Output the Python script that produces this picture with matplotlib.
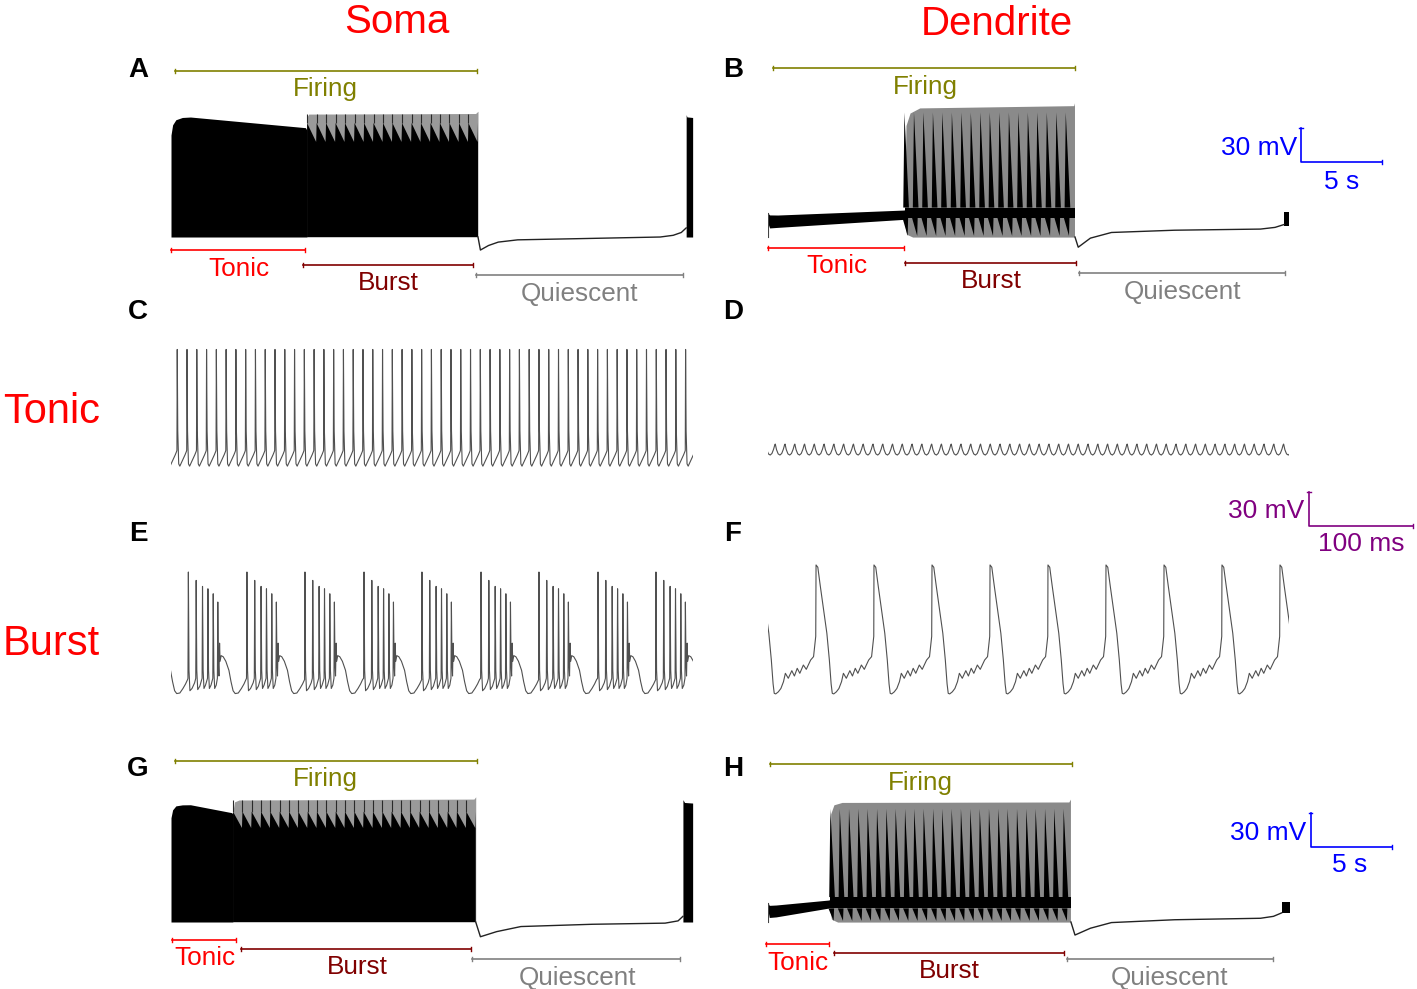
import numpy as np
import matplotlib
matplotlib.use('Agg')
import matplotlib.pyplot as plt

plt.rcParams['font.family'] = ['Liberation Sans', 'DejaVu Sans']

W, H = 1417, 989
MV = 1.133   # px per mV
SEC = 16.2   # px per s  (panels A, B, G, H)
MS = 1.04    # px per ms (panels C to F)

# ---------------- data ----------------
# long runs (time in s, voltage in mV)
ab_onsets = [8.40, 8.99, 9.57, 10.16, 10.74, 11.33, 11.92, 12.50, 13.09, 13.67,
             14.26, 14.85, 15.43, 16.02, 16.60, 17.19, 17.78, 18.36]
gh_onsets = [3.83, 4.41, 4.98, 5.56, 6.13, 6.71, 7.29, 7.86, 8.44, 9.01, 9.59,
             10.17, 10.74, 11.32, 11.89, 12.47, 13.05, 13.62, 14.20, 14.77,
             15.35, 15.93, 16.50, 17.08, 17.65, 18.23]

# A: soma
a_tonic_t = [0.0, 0.1, 0.3, 0.7, 1.2, 8.3, 8.4]
a_tonic_v = [20, 29, 33.5, 35.5, 35.9, 26.5, 24]
a_top_t = [8.4, 8.5, 18.8, 18.95]
a_top_v = [36, 38.5, 39, 41]
a_quiet_t = [18.95, 19.1, 19.6, 20.2, 21.4, 25.0, 30.2, 31.0, 31.5, 31.8]
a_quiet_v = [-70, -81.5, -77.5, -74.5, -72.5, -71.5, -70, -68.5, -66, -62]
a_last_t = [31.8, 31.85, 32.2]
a_last_v = [38, 36, 35.5]

# B: dendrite
b_band_t = [0.0, 0.1, 0.6, 8.4, 8.46]
b_band_hi = [-49, -50.5, -50.6, -46.2, -45.5]
b_band_lo = [-58, -62, -61.5, -54.4, -54]
b_top_t = [8.46, 8.55, 8.8, 9.4, 18.9, 18.95]
b_top_v = [-40, 28, 39, 43.5, 45.5, 48]
b_quiet_t = [18.95, 19.15, 19.9, 21.2, 25.1, 30.4, 31.3, 31.85]
b_quiet_v = [-70, -79, -71, -66, -64, -63, -61.5, -59]
b_last_t = [31.85, 32.16]
b_last_lo = [-60, -60]
b_last_hi = [-48, -48]

# G: soma, second run
g_tonic_t = [0.0, 0.1, 0.3, 0.7, 1.2, 3.75, 3.83]
g_tonic_v = [22, 29, 32.5, 33.4, 33.5, 26.5, 25]
g_top_t = [3.83, 3.92, 4.2, 18.7, 18.81]
g_top_v = [28, 36, 37.7, 38.5, 40.5]
g_quiet_t = [18.81, 19.1, 20.1, 21.6, 26.0, 30.5, 31.3, 31.6]
g_quiet_v = [-70, -83, -78.5, -74, -72, -71, -69, -65]
g_last_t = [31.6, 31.7, 32.2]
g_last_v = [38, 35.5, 35]

# H: dendrite, second run
h_band_t = [0.0, 0.08, 0.5, 3.75, 3.83]
h_band_hi = [-53, -55.3, -55, -50.6, -50]
h_band_lo = [-60, -66, -65.5, -57.7, -57]
h_top_t = [3.83, 3.9, 4.1, 4.6, 18.6, 18.7]
h_top_v = [-45, 25, 33, 35.1, 35.5, 38]
h_quiet_t = [18.7, 18.95, 19.9, 21.2, 25.1, 30.4, 31.2, 31.7]
h_quiet_v = [-70, -81.5, -75.5, -70.5, -68, -66.7, -65, -62]
h_last_t = [31.7, 32.2]
h_last_lo = [-62, -62]
h_last_hi = [-52, -52]

# C / D: tonic firing (time in ms)
tonic_spikes = [-3.4, 6.0, 15.4, 24.8, 34.2, 43.6, 53.0, 62.4, 71.8, 81.2, 90.6,
                100.0, 109.4, 118.8, 128.2, 137.6, 147.0, 156.4, 165.8, 175.2,
                184.6, 194.0, 203.4, 212.8, 222.2, 231.6, 241.0, 250.4, 259.8,
                269.2, 278.6, 288.0, 297.4, 306.8, 316.2, 325.6, 335.0, 344.4,
                353.8, 363.2, 372.6, 382.0, 391.4, 400.8, 410.2, 419.6, 429.0,
                438.4, 447.8, 457.2, 466.6, 476.0, 485.4, 494.8]
soma_spike = [(-0.3, -57), (0, 32), (0.5, -40), (1.4, -69), (2.5, -71),
              (5.0, -66), (7.5, -61), (8.8, -58)]
dend_wave = [(1.0, -51.5), (2.2, -56.5), (3.8, -60.2), (5.5, -61.2),
             (7.2, -59.8), (8.8, -56), (9.9, -52.3)]

# E / F: burst firing (time in ms)
burst_onsets = [-39.5, 16.7, 73.0, 128.8, 185.6, 241.3, 298.1, 353.8, 410.6, 466.3]
soma_burst = [(-0.4, -57),
              (0, 36.8), (0.6, -50), (1.5, -68), (3.5, -66), (6.0, -61), (7.1, -57),
              (7.5, 29.4), (8.1, -50), (9.0, -67), (11.0, -64), (13.2, -57),
              (13.6, 24.1), (14.2, -50), (15.0, -66), (16.5, -63), (18.4, -57),
              (18.8, 22.0), (19.4, -50), (20.2, -66), (21.8, -63), (23.5, -57),
              (23.9, 17.6), (24.5, -50), (25.3, -66), (26.8, -63), (27.9, -57),
              (28.3, 10.3), (28.9, -45), (29.4, -55),
              (30.0, -26), (30.5, -42), (31.5, -37), (33.5, -38), (36.0, -42),
              (39.0, -50), (41.0, -60), (43.0, -68), (45.0, -70.5), (48.0, -70),
              (51.0, -66), (53.5, -62), (55.5, -58)]
dend_spikes = [-9.6, 46.2, 101.9, 157.7, 213.5, 269.2, 325.0, 380.8, 436.5, 492.3]
dend_burst = [(0, 43), (1.7, 41), (4.0, 25), (7.0, 5), (10.4, -17.3), (12.8, -40.9),
              (14.5, -62), (15.6, -70.3), (17.0, -70.8), (19.5, -69), (22.0, -66),
              (24.5, -60), (26.3, -52.6), (29.1, -57), (32.5, -50.3), (35.0, -55),
              (37.7, -48.2), (40.2, -52.6), (43.6, -45.3), (46.4, -49.1),
              (50.6, -40.9), (53.4, -37.9), (55.5, -20)]

# phase bars: name, start, end (s)
a_phases = [('Firing', 0.25, 18.9), ('Tonic', 0.0, 8.27),
            ('Burst', 8.15, 18.64), ('Quiescent', 18.83, 31.6)]
b_phases = [('Firing', 0.31, 18.95), ('Tonic', 0.0, 8.4),
            ('Burst', 8.46, 19.0), ('Quiescent', 19.2, 31.9)]
g_phases = [('Firing', 0.25, 18.9), ('Tonic', 0.06, 4.0),
            ('Burst', 4.3, 18.5), ('Quiescent', 18.6, 31.4)]
h_phases = [('Firing', 0.12, 18.77), ('Tonic', -0.12, 3.77),
            ('Burst', 4.07, 18.27), ('Quiescent', 18.46, 31.2)]
phase_colors = {'Firing': '#808000', 'Tonic': '#ff0000',
                'Burst': '#800000', 'Quiescent': '#808080'}

# ---------------- drawing ----------------
fig = plt.figure(figsize=(W / 100, H / 100), dpi=100)


def panel(x0, y0, sx, t_end, v_lo=-90, v_hi=55):
    # axes whose data box starts at pixel x0 (t = 0); pixel y0 is V = 0
    top = y0 - v_hi * MV
    bottom = y0 - v_lo * MV
    ax = fig.add_axes([x0 / W, 1 - bottom / H, t_end * sx / W, (bottom - top) / H])
    ax.set_xlim(0, t_end)
    ax.set_ylim(v_lo, v_hi)
    ax.axis('off')
    return ax


def fig_text(x, y, s, **kw):
    fig.text(x / W, 1 - y / H, s, ha='center', va='center', **kw)


def train(times, tmpl):
    t, v = [], []
    for s in times:
        for dt, dv in tmpl:
            t.append(s + dt)
            v.append(dv)
    return t, v


def phase_bars(ax, phases, levels, text_levels, text_x):
    for (name, t0, t1), lv, tv, tx in zip(phases, levels, text_levels, text_x):
        c = phase_colors[name]
        ax.plot([t0, t1], [lv, lv], color=c, lw=1.2, clip_on=False)
        ax.plot([t0, t0], [lv - 1.8, lv + 1.8], color=c, lw=1, clip_on=False)
        ax.plot([t1, t1], [lv - 1.8, lv + 1.8], color=c, lw=1, clip_on=False)
        ax.text(tx, tv - 2.2, name, color=c, fontsize=18.8, ha='center', va='center')


def scale_bar(ax, t, v, dt, dv, color, lab_v, lab_t, tx_v, ty_v, tx_t, ty_t):
    ax.plot([t, t, t + dt], [v + dv, v, v], color=color, lw=1.2, clip_on=False)
    ax.plot([t - dt * 0.02, t + dt * 0.02], [v + dv, v + dv], color=color, lw=1, clip_on=False)
    ax.plot([t + dt, t + dt], [v - 1.5, v + 1.5], color=color, lw=1, clip_on=False)
    ax.text(tx_v, ty_v - 2, lab_v, color=color, fontsize=19, ha='right', va='center')
    ax.text(tx_t, ty_t - 2, lab_t, color=color, fontsize=19, ha='center', va='center')


def soma_long(ax, tonic_t, tonic_v, top_t, top_v, onsets, fire_end, hi, lo,
              quiet_t, quiet_v, last_t, last_v):
    ax.fill_between(tonic_t, -70, tonic_v, color='black', lw=0)
    ax.fill_between(top_t, -70, top_v, color='#9a9a9a', lw=0)
    edges = list(onsets) + [fire_end]
    xs, ys = [onsets[0]], [-70]
    for a, b in zip(edges[:-1], edges[1:]):
        xs += [a, b - 0.03]
        ys += [hi, lo]
    xs += [fire_end, fire_end]
    ys += [hi, -70]
    ax.fill(xs, ys, color='black', lw=0)
    ax.vlines(onsets, hi, top_v[-2] - 0.5, color='#2a2a2a', lw=0.8)
    ax.plot(quiet_t, quiet_v, color='#222222', lw=1)
    ax.fill_between(last_t, -70, last_v, color='black', lw=0)


def dend_long(ax, band_t, band_hi, band_lo, top_t, top_v, onsets, fire_end,
              core_hi, core_lo, apex, quiet_t, quiet_v, last_t, last_lo, last_hi):
    ax.fill_between(band_t, band_lo, band_hi, color='black', lw=0)
    ax.plot([0.03, 0.03], [band_hi[0], -70], color='#444444', lw=0.8)
    start = top_t[0]
    bx = list(top_t) + [fire_end, start + 0.5, start + 0.12, start]
    by = list(top_v) + [-70.5, -70.5, -68, -58]
    ax.fill(bx, by, color='#8a8a8a', lw=0)
    ax.fill_between([start, fire_end], core_lo, core_hi, color='black', lw=0)
    for s in onsets:
        ax.fill([s - 0.05, s + 0.3, s + 0.02], [core_hi, core_hi, apex],
                color='black', lw=0)
        ax.fill([s - 0.1, s + 0.25, s + 0.22], [core_lo, core_lo, -69],
                color='black', lw=0)
    ax.plot(quiet_t, quiet_v, color='#222222', lw=1)
    ax.fill_between(last_t, last_lo, last_hi, color='black', lw=0)


# A
axA = panel(171, 157.7, SEC, 32.2)
soma_long(axA, a_tonic_t, a_tonic_v, a_top_t, a_top_v, ab_onsets, 18.95, 30.6, 13.9,
          a_quiet_t, a_quiet_v, a_last_t, a_last_v)
phase_bars(axA, a_phases, [76.5, -81.5, -94.7, -103.5],
           [62.4, -95.6, -108.8, -117.7], [9.5, 4.2, 13.4, 25.2])

# B
axB = panel(768, 157.7, SEC, 32.2)
dend_long(axB, b_band_t, b_band_hi, b_band_lo, b_top_t, b_top_v, ab_onsets, 18.95,
          -44, -53, 40, b_quiet_t, b_quiet_v, b_last_t, b_last_lo, b_last_hi)
phase_bars(axB, b_phases, [79.2, -79.7, -93, -101.8],
           [65.0, -93.8, -107, -115.9], [9.7, 4.26, 13.8, 25.6])
scale_bar(axB, 32.9, -3.8, 5, 30, '#0000ff', '30 mV', '5 s', 32.65, 10.3, 35.4, -19.7)

# C
axC = panel(171, 385.7, MS, 502, -80, 40)
t, v = train(tonic_spikes, soma_spike)
axC.plot(t, v, color='#505050', lw=0.8)

# D
axD = panel(768, 385.7, MS, 501, -80, 40)
t, v = train(tonic_spikes, dend_wave)
axD.plot(t, v, color='#505050', lw=0.8)

# E
axE = panel(171, 613.7, MS, 502, -80, 45)
t, v = train(burst_onsets, soma_burst)
axE.plot(t, v, color='#505050', lw=0.8)

# F
axF = panel(768, 613.7, MS, 501, -80, 50)
t, v = train(dend_spikes, dend_burst)
axF.plot(t, v, color='#505050', lw=0.8)
scale_bar(axF, 520.2, 77.4, 100, 30, '#800080', '30 mV', '100 ms',
          515.4, 92.4, 570.2, 63.3)

# G
axG = panel(171, 842.7, SEC, 32.2)
soma_long(axG, g_tonic_t, g_tonic_v, g_top_t, g_top_v, gh_onsets, 18.81, 27.4, 13.0,
          g_quiet_t, g_quiet_v, g_last_t, g_last_v)
phase_bars(axG, g_phases, [72.1, -85.9, -93.8, -102.6],
           [58.0, -100, -107.9, -116.8], [9.5, 2.1, 11.5, 25.1])

# H
axH = panel(768, 842.7, SEC, 32.2)
dend_long(axH, h_band_t, h_band_hi, h_band_lo, h_top_t, h_top_v, gh_onsets, 18.7,
          -48, -58, 30, h_quiet_t, h_quiet_v, h_last_t, h_last_lo, h_last_hi)
phase_bars(axH, h_phases, [69.5, -89.4, -97.4, -102.6],
           [55.3, -104.4, -110.6, -116.8], [9.4, 1.85, 11.2, 24.8])
scale_bar(axH, 33.5, -3.8, 5, 30, '#0000ff', '30 mV', '5 s', 33.2, 10.3, 35.9, -17.8)

# titles, row labels, panel letters
fig_text(397, 22, 'Soma', color='#ff0000', fontsize=29)
fig_text(997, 24, 'Dendrite', color='#ff0000', fontsize=29)
fig_text(52, 412, 'Tonic', color='#ff0000', fontsize=30)
fig_text(51, 644, 'Burst', color='#ff0000', fontsize=30)
for letter, x, y in [('A', 138, 70), ('B', 733, 70), ('C', 138, 312), ('D', 733, 312),
                     ('E', 138, 534), ('F', 733, 534), ('G', 138, 769), ('H', 733, 769)]:
    fig_text(x, y, letter, color='black', fontsize=20, fontweight='bold')

fig.savefig('out.png', dpi=100)
